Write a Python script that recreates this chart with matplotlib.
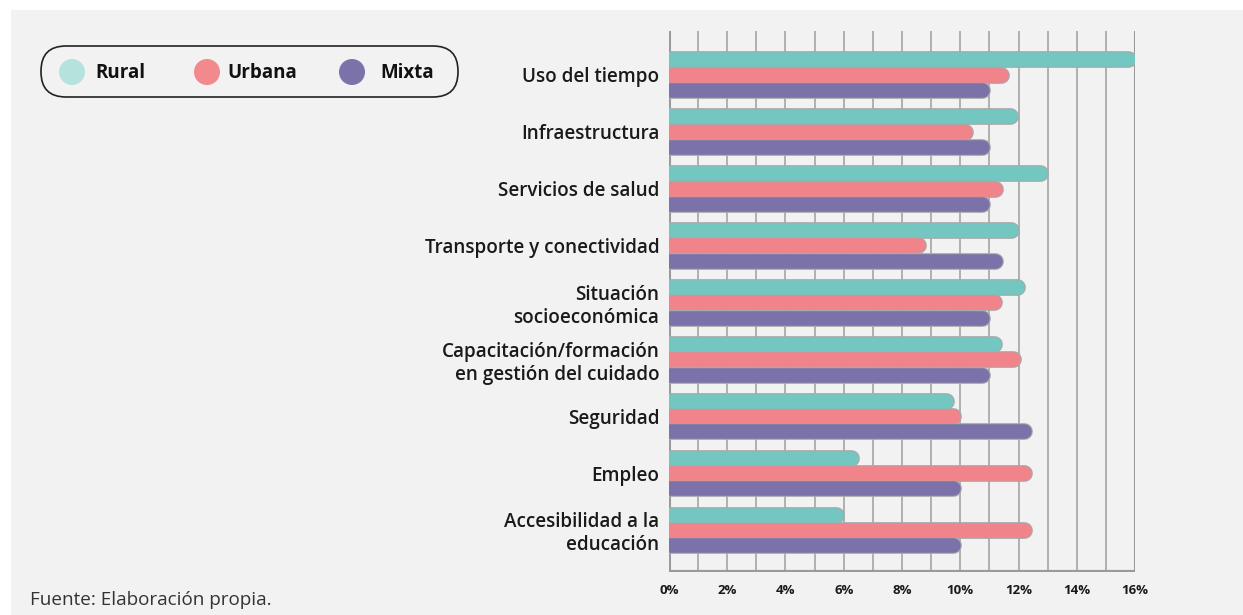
import numpy as np
import matplotlib
matplotlib.use('Agg')
import matplotlib.pyplot as plt
from matplotlib.patches import Rectangle, FancyBboxPatch, Ellipse

#============================================================
# data (percent)
#============================================================
categorias = ['Uso del tiempo', 'Infraestructura', 'Servicios de salud',
              'Transporte y conectividad', 'Situación\nsocioeconómica',
              'Capacitación/formación\nen gestión del cuidado', 'Seguridad',
              'Empleo', 'Accesibilidad a la\neducación']
rural = [16.0, 11.95, 13.0, 12.0, 12.2, 11.4, 9.75, 6.5, 6.0]
urbana = [11.65, 10.4, 11.45, 8.8, 11.4, 12.05, 10.0, 12.45, 12.45]
mixta = [11.0, 11.0, 11.0, 11.45, 11.0, 11.0, 12.45, 10.0, 10.0]
series = ['Rural', 'Urbana', 'Mixta']
ticks = [0, 2, 4, 6, 8, 10, 12, 14, 16]

bar_cols = ['#74c6c1', '#f0848a', '#7a72a8']
leg_cols = ['#b4e3de', '#f2898c', '#7a72a8']
BG = '#f2f2f2'
FONT = 'Open Sans'

W, H = 1243, 615
fig = plt.figure(figsize=(W/100, H/100), dpi=100, facecolor='white')
fig.patches.append(Rectangle((11/W, 0), 1, 1-10/H, transform=fig.transFigure,
                             facecolor=BG, edgecolor='none', zorder=-10))

ax = fig.add_axes([669/W, 1-572/H, (1135-669)/W, (572-31)/H])
ax.set_facecolor('none')
ax.set_xlim(0, 16)
ax.set_ylim(8.74, -0.77)

# vertical grid every 1%
for g in range(0, 17):
    lw = 2.2 if g in (0, 16) else 1.4
    col = '#9a9a9a' if g in (0, 16) else '#b0b0b0'
    ax.axvline(g, color=col, lw=lw, zorder=1)
ax.axhline(8.74, color='#9a9a9a', lw=3, zorder=1)

# bars with round ends
bar_px = 14.5
lw_pt = bar_px * 72 / 100
rad = (bar_px / 2) * 16 / (1135 - 669)
offs = [-0.27, 0, 0.27]
y = np.arange(len(categorias))
for vals, col, off in zip([rural, urbana, mixta], bar_cols, offs):
    for yi, v in zip(y, vals):
        ax.plot([-1, v - rad], [yi + off, yi + off], color='#a8a8a8',
                lw=lw_pt + 1.6, solid_capstyle='round', zorder=2)
        ax.plot([-1, v - rad], [yi + off, yi + off], color=col,
                lw=lw_pt, solid_capstyle='round', zorder=3)

ax.set_yticks(y)
ax.set_yticklabels(categorias, fontsize=13.6, fontweight=600, family=FONT,
                   color='#1a1a1a', linespacing=1.2)
ax.set_xticks(ticks)
ax.set_xticklabels([f'{t}%' for t in ticks], fontsize=9.5, fontweight='bold',
                   family=FONT, color='#1a1a1a')
ax.tick_params(axis='both', length=0)
ax.tick_params(axis='y', pad=7)
ax.tick_params(axis='x', pad=9)
for s in ax.spines.values():
    s.set_visible(False)

# legend drawn in pixel coordinates
lax = fig.add_axes([0, 0, 1, 1])
lax.set_xlim(0, W)
lax.set_ylim(H, 0)
lax.axis('off')
lax.add_patch(FancyBboxPatch((41, 46), 417, 51, boxstyle='round,pad=0,rounding_size=25',
                             facecolor='none', edgecolor='#222222', lw=1.2))
cx = [72, 207, 352]
tx = [95, 227, 380]
for c, t, col, name in zip(cx, tx, leg_cols, series):
    lax.add_patch(Ellipse((c, 72), 26, 26, facecolor=col, edgecolor='none'))
    lax.text(t, 73, name, fontsize=13.5, fontweight='bold', family=FONT,
             va='center', ha='left', color='#111111')

fig.text(30/W, 1-600/H, 'Fuente: Elaboración propia.', fontsize=13.6,
         family=FONT, color='#333333', va='center')

fig.savefig('out.png', dpi=100, facecolor='white')
